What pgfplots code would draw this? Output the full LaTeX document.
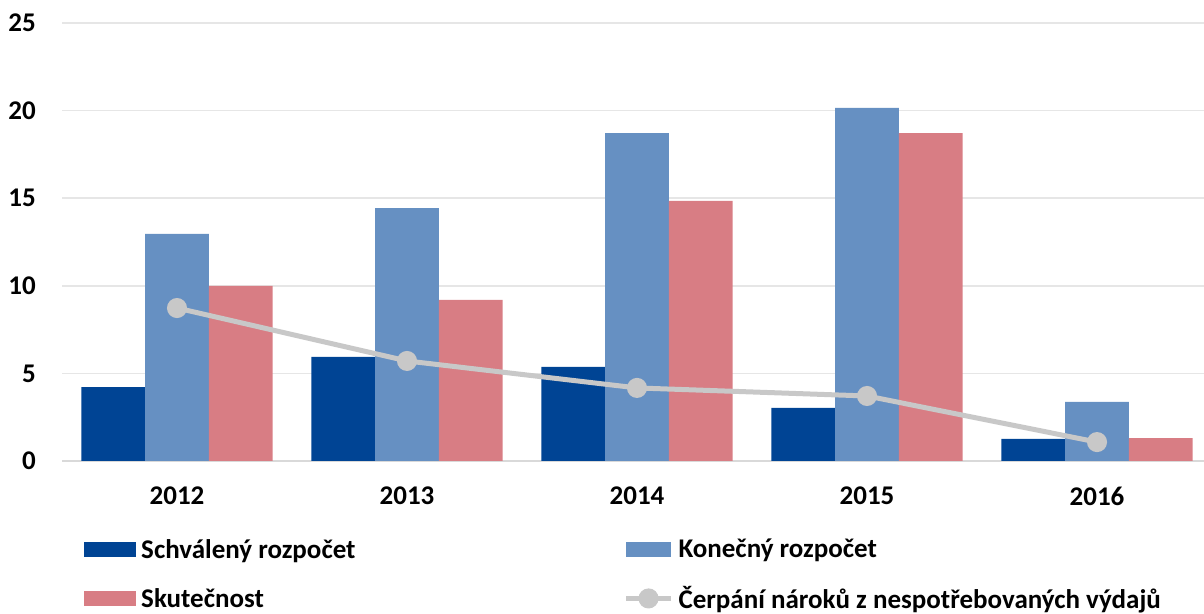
\documentclass[border=0pt]{standalone}
\usepackage{pgfplots}
\pgfplotsset{compat=1.18}
\usepackage{fontspec}
\setmainfont{Carlito}
\definecolor{cDark}{HTML}{004494}
\definecolor{cMid}{HTML}{6690C2}
\definecolor{cPink}{HTML}{D87D84}
\definecolor{cLine}{HTML}{C8C8C8}
\definecolor{cGrid}{HTML}{E6E6E6}
\definecolor{cAxis}{HTML}{D9D9D9}
\begin{document}
\begin{tikzpicture}[x=1bp,y=1bp]
\path[use as bounding box] (0,0) rectangle (1204,614);
\begin{axis}[
  at={(62bp,153bp)}, anchor=south west,
  scale only axis, width=1142bp, height=438bp,
  xmin=-0.5, xmax=4.465, ymin=0, ymax=25,
  xtick={0,1,2,3,4}, xticklabels={2012,2013,2014,2015,2016},
  ytick={0,5,10,15,20,25},
  major tick length=0pt,
  axis x line*=bottom, axis y line*=left,
  y axis line style={draw=none},
  x axis line style={draw=cAxis, line width=1.5bp},
  ymajorgrids, grid style={draw=cGrid, line width=1.5bp},
  font=\fontsize{27bp}{32bp}\selectfont\bfseries,
  /pgf/number format/assume math mode=true,
  yticklabel style={anchor=east, inner sep=0pt, xshift=-26bp},
  xticklabel style={anchor=north, inner sep=0pt, yshift=-26bp},
  legend columns=2,
  legend cell align=left,
  legend style={at={(0.0193,-0.178)}, anchor=north west, draw=none, fill=none,
    inner sep=0pt, row sep=27bp,
    nodes={inner sep=0pt, anchor=west},
    /tikz/every odd column/.append style={column sep=5bp},
    /tikz/every even column/.append style={column sep=268bp},
    font=\fontsize{27bp}{32bp}\selectfont\bfseries},
]
\addplot[ybar, bar width=63.7bp, bar shift=-63.7bp, fill=cDark, draw=none,
  legend image code/.code={\fill[cDark] (0bp,-7.5bp) rectangle (52bp,7.5bp);}]
  coordinates {(0,4.22) (1,5.94) (2,5.37) (3,3.03) (4,1.26)};
\addlegendentry{Schválený rozpočet}
\addplot[ybar, bar width=63.7bp, bar shift=0bp, fill=cMid, draw=none,
  legend image code/.code={\fill[cMid] (0bp,-7.5bp) rectangle (45bp,7.5bp);}]
  coordinates {(0,12.96) (1,14.44) (2,18.72) (3,20.15) (4,3.37)};
\addlegendentry{Konečný rozpočet}
\addplot[ybar, bar width=63.7bp, bar shift=63.7bp, fill=cPink, draw=none,
  legend image code/.code={\fill[cPink] (0bp,-7.5bp) rectangle (52bp,7.5bp);}]
  coordinates {(0,9.99) (1,9.19) (2,14.84) (3,18.72) (4,1.31)};
\addlegendentry{Skutečnost}
\addplot[draw=cLine, line width=5bp, mark=*, mark size=7.5bp,
  mark options={fill=cLine, draw=none},
  legend image code/.code={\draw[cLine, line width=5bp] (0bp,0bp) -- (45bp,0bp);
     \fill[cLine] (22.5bp,0bp) circle (7.5bp);}]
  coordinates {(0,8.73) (1,5.71) (2,4.17) (3,3.71) (4,1.08)};
\addlegendentry{Čerpání nároků z nespotřebovaných výdajů}
\end{axis}
\end{tikzpicture}
\end{document}
